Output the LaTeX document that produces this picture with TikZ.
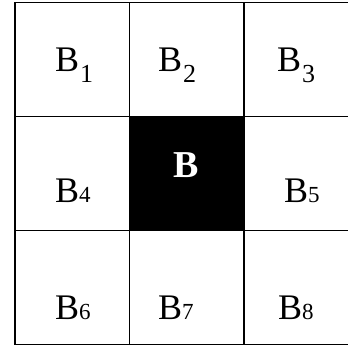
\documentclass[tikz,border=0pt]{standalone}
\usepackage{fontspec}
\setmainfont{Liberation Serif}
\usetikzlibrary{positioning}
\tikzset{
	cell/.style = {rectangle, draw, line width=1.3pt, minimum width=114.5pt, minimum height=114pt, inner sep=0pt, outer sep=0pt}, % one square of the grid
	mark text/.style = {anchor=base west, inner sep=0pt, font=\fontsize{36}{36}\selectfont}
}
\newcommand{\subnum}[1]{\kern1pt\raisebox{-11pt}{\fontsize{26}{26}\selectfont #1}}
\newcommand{\lownum}[1]{{\fontsize{23}{23}\selectfont #1}}

\begin{document}
\begin{tikzpicture}[x=1pt,y=1pt]
            \useasboundingbox (0,0) rectangle (348,347);
            \node[cell] (b1) at (72.25,287.5) {};
            \node[cell] (b2) [right=0pt of b1] {};
            \node[cell] (b3) [right=0pt of b2] {};
            \node[cell] (b4) [below=0pt of b1] {};
            \node[cell] (b5) [below=0pt of b3] {};
            \node[cell] (b6) [below=0pt of b4] {};
            \node[cell] (b7) [right=0pt of b6] {};
            \node[cell] (b8) [right=0pt of b7] {};
            \node[cell,fill=black] (b) [below=0pt of b2] {};
            % labels
            \node[mark text] (t1) at (55,275) {B\subnum{1}};
            \node[mark text] (t2) at (158,275) {B\subnum{2}};
            \node[mark text] (t3) at (277,275) {B\subnum{3}};
            \node[mark text] (t4) at (55,144) {B\lownum{4}};
            \node[mark text] (t5) at (284,144) {B\lownum{5}};
            \node[mark text] (t6) at (55,27) {B\lownum{6}};
            \node[mark text] (t7) at (158,27) {B\lownum{7}};
            \node[mark text] (t8) at (278,27) {B\lownum{8}};
            \node[mark text,white,font=\fontsize{38}{38}\selectfont\bfseries] (t) at (173,169) {B};
\end{tikzpicture}
\end{document}
